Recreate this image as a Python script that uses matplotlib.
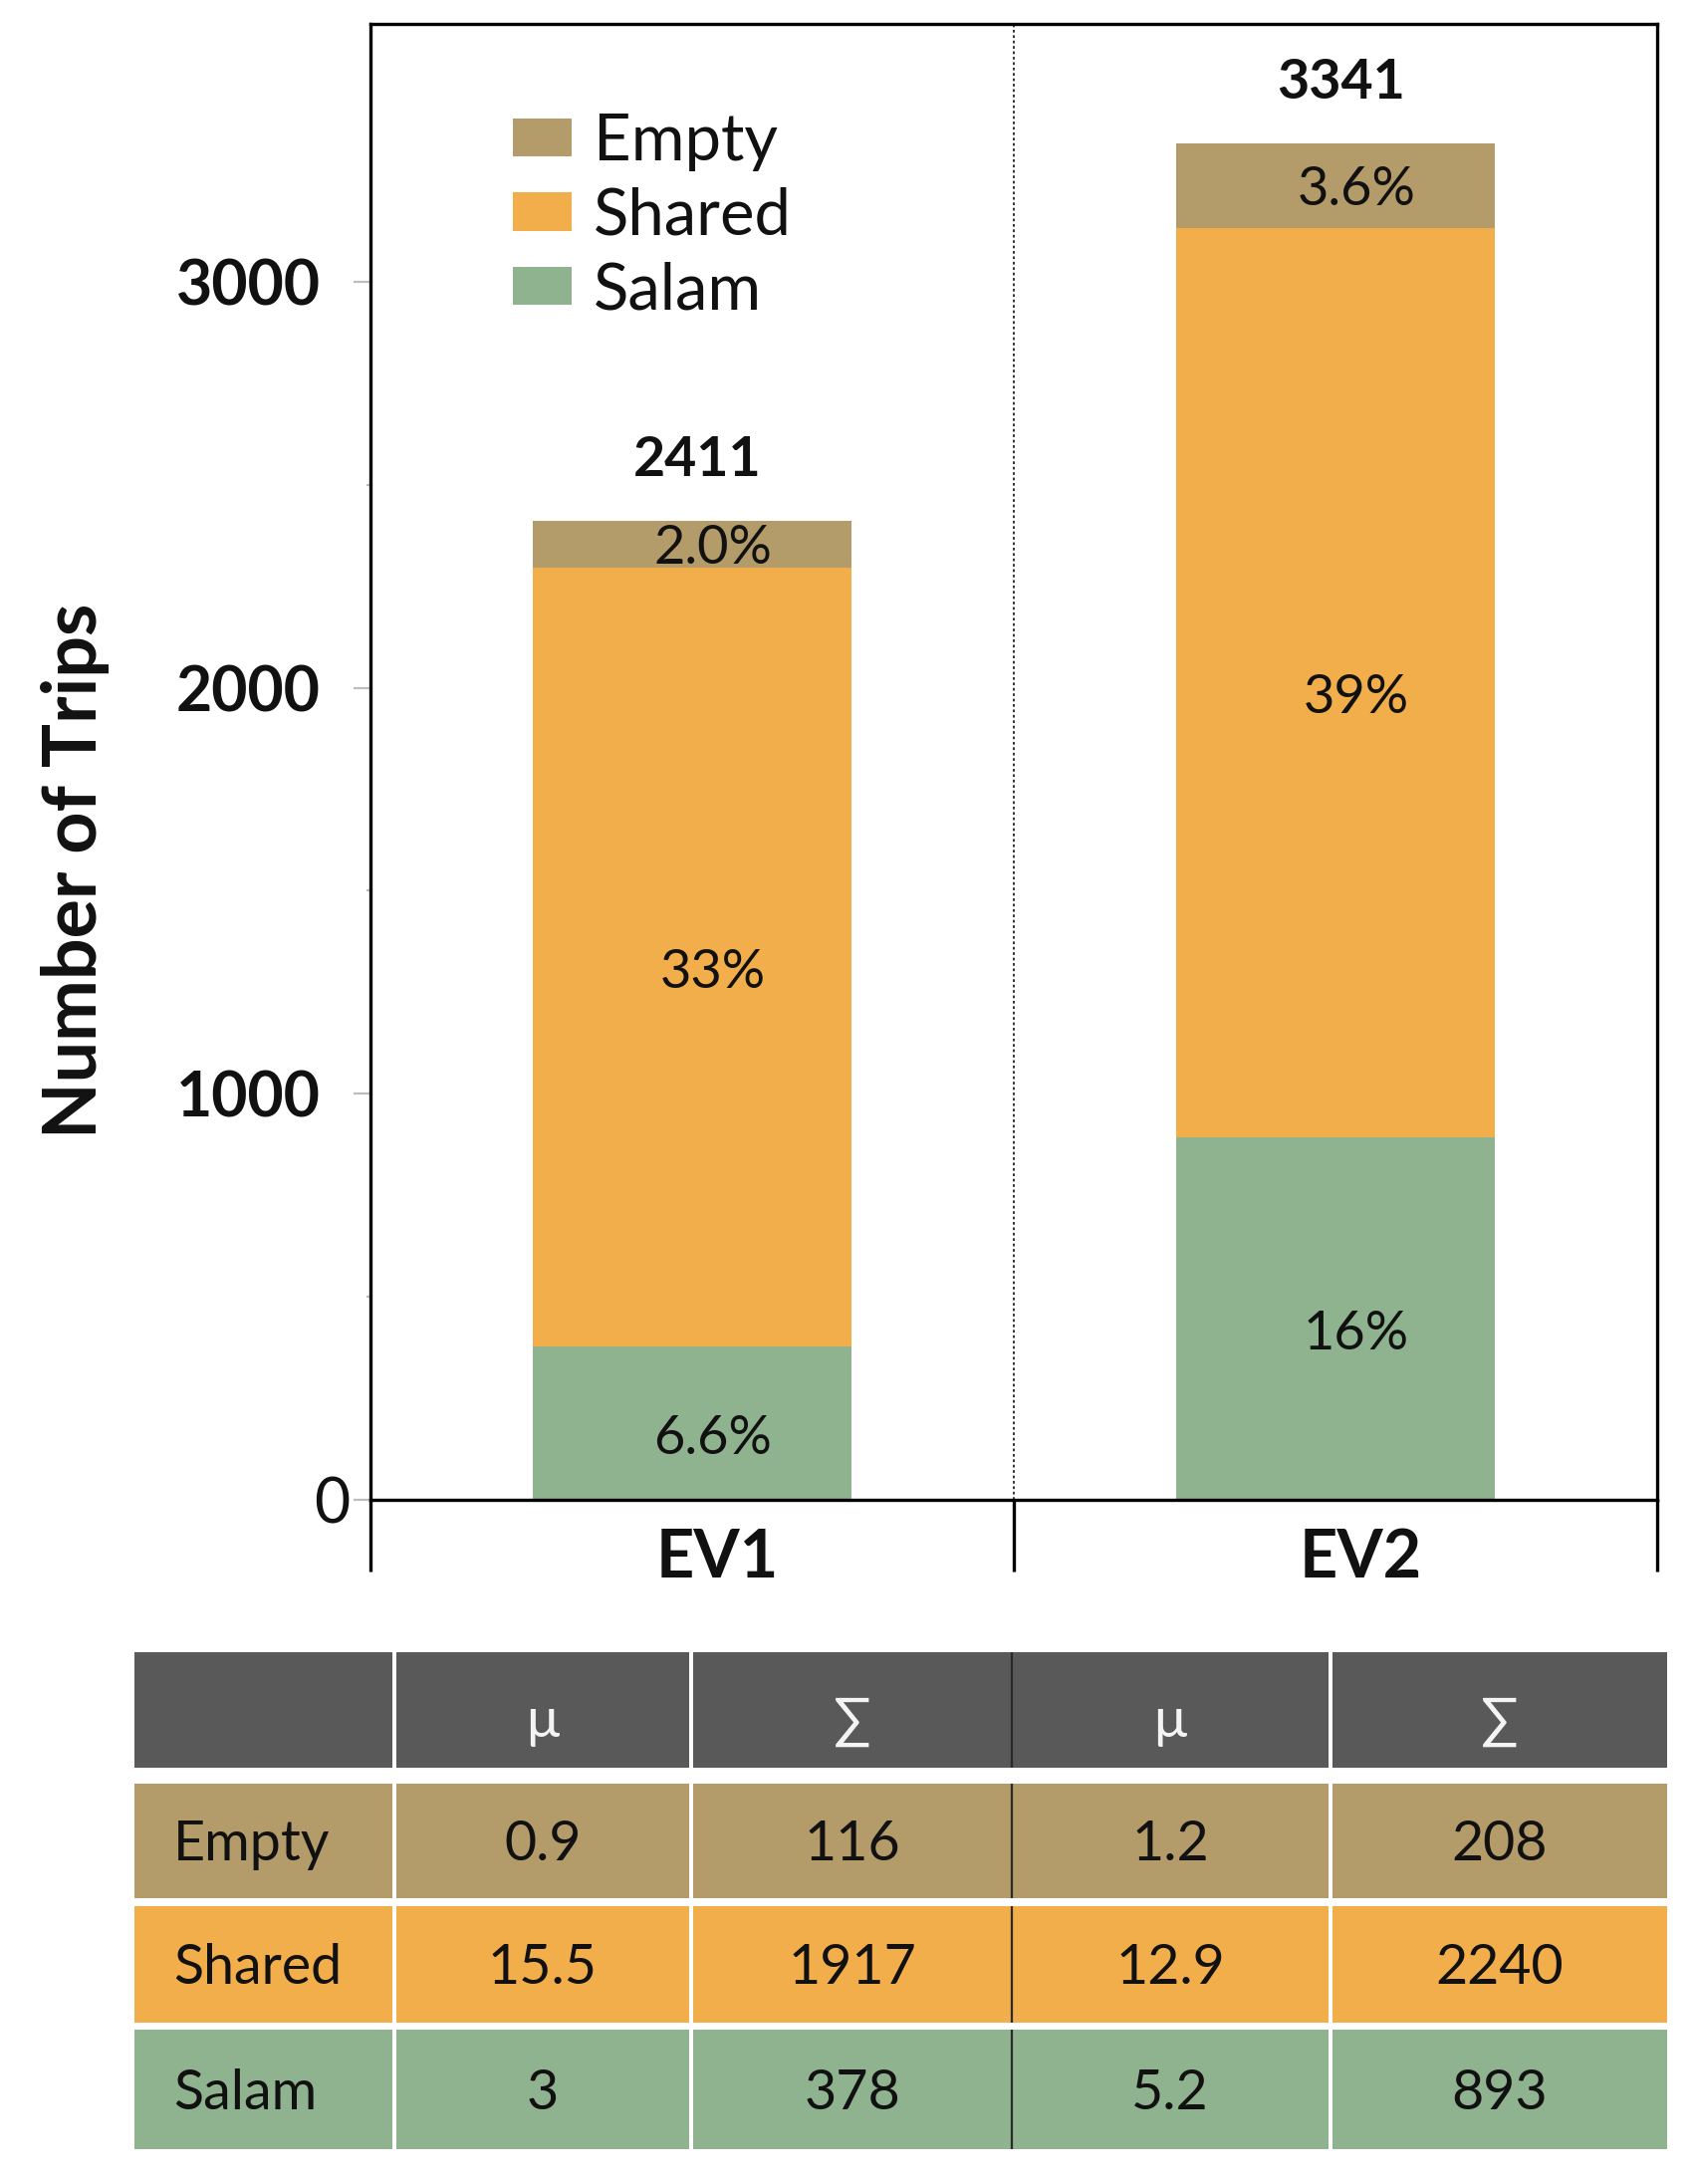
import matplotlib
matplotlib.use("Agg")
import matplotlib.pyplot as plt
from matplotlib.patches import Rectangle
from matplotlib.ticker import FixedLocator, NullFormatter
from matplotlib.transforms import ScaledTranslation

plt.rcParams['font.family'] = ['Lato', 'DejaVu Sans']

# ---------------- data ----------------
categories = ['EV1', 'EV2']
segment_names = ['Salam', 'Shared', 'Empty']
salam = [378, 893]
shared = [1917, 2240]
empty = [116, 208]
totals = [2411, 3341]
pct_salam = ['6.6%', '16%']
pct_shared = ['33%', '39%']
pct_empty = ['2.0%', '3.6%']
y_ticks = [0, 1000, 2000, 3000]
y_minor = [500, 1500, 2500]

table_header = ['', 'μ', '∑', 'μ', '∑']
table_rows = ['Empty', 'Shared', 'Salam']
mean_ev1 = ['0.9', '15.5', '3']
sum_ev1 = ['116', '1917', '378']
mean_ev2 = ['1.2', '12.9', '5.2']
sum_ev2 = ['208', '2240', '893']

# ---------------- style ----------------
C_EMPTY = '#B49B6A'
C_SHARED = '#F2AE4A'
C_SALAM = '#8FB38E'
C_HEADER = '#595959'
TXT = '#111111'

W, H = 1701, 2193
fig = plt.figure(figsize=(W / 100, H / 100), dpi=100)

# ---------------- table (pixel-coordinate overlay) ----------------
tax = fig.add_axes([0, 0, 1, 1])
tax.set_xlim(0, W)
tax.set_ylim(H, 0)
tax.axis('off')

col_edges = [(135, 394), (398, 692), (696, 1015), (1016, 1334), (1338, 1674)]
row_edges = [(1659, 1775), (1791, 1906), (1914, 2031), (2038, 2158)]
row_colors = [C_EMPTY, C_SHARED, C_SALAM]
body = [table_rows, mean_ev1, sum_ev1, mean_ev2, sum_ev2]
FS_T = 40

# header
y0, y1 = row_edges[0]
for j, (x0, x1) in enumerate(col_edges):
    tax.add_patch(Rectangle((x0, y0), x1 - x0, y1 - y0, color=C_HEADER, lw=0))
    tax.text((x0 + x1) / 2, (y0 + y1) / 2 + 12, table_header[j], ha='center', va='center',
             fontsize=FS_T, color='#f4f4f4')
for i in range(3):
    y0, y1 = row_edges[i + 1]
    for j, (x0, x1) in enumerate(col_edges):
        tax.add_patch(Rectangle((x0, y0), x1 - x0, y1 - y0, color=row_colors[i], lw=0))
        if j == 0:
            tax.text(174, (y0 + y1) / 2 + 4, body[j][i], ha='left', va='center',
                     fontsize=FS_T, color=TXT)
        else:
            tax.text((x0 + x1) / 2, (y0 + y1) / 2 + 4, body[j][i], ha='center', va='center',
                     fontsize=FS_T, color=TXT)
for (y0, y1) in row_edges:
    tax.plot([1015.5, 1015.5], [y0, y1], color='#2a2a2a', lw=1.6, solid_capstyle='butt')

# ---------------- bar chart ----------------
L, R, T, B = 372, 1664, 24, 1506
ax = fig.add_axes([L / W, 1 - B / H, (R - L) / W, (B - T) / H])
ax.patch.set_alpha(0)

x = list(range(len(categories)))
bw = 0.495
b_salam = ax.bar(x, salam, bw, color=C_SALAM, label='Salam', zorder=2)
b_shared = ax.bar(x, shared, bw, bottom=salam, color=C_SHARED, label='Shared', zorder=2)
bot2 = [a + b for a, b in zip(salam, shared)]
b_empty = ax.bar(x, empty, bw, bottom=bot2, color=C_EMPTY, label='Empty', zorder=2)

ax.set_xlim(-0.5, 1.5)
ax.set_ylim(0, 3635)

FS_P = 39
for i in x:
    segs = [(0, salam[i], pct_salam[i], -11),
            (salam[i], shared[i], pct_shared[i], -11),
            (bot2[i], empty[i], pct_empty[i], -3)]
    for base, h, lab, dy in segs:
        ax.annotate(lab, (i, base + h / 2), xytext=(15, dy), textcoords='offset points',
                    ha='center', va='center', fontsize=FS_P, color=TXT, zorder=3)
    ax.annotate(str(totals[i]), (i, totals[i]), xytext=(4, 44), textcoords='offset points',
                ha='center', va='center', fontsize=40, fontweight='bold', color=TXT)

ax.axvline(0.5, color='#222222', lw=1.3, ls=(0, (1.5, 1.5)), zorder=1)

for s in ax.spines.values():
    s.set_linewidth(2.4)
    s.set_color('black')

# x ticks: boundaries as long black ticks, category names as minor labels
ax.xaxis.set_major_locator(FixedLocator([-0.5, 0.5, 1.5]))
ax.xaxis.set_major_formatter(NullFormatter())
ax.xaxis.set_minor_locator(FixedLocator(x))
ax.set_xticklabels(categories, minor=True)
ax.tick_params(axis='x', which='major', direction='out', length=52, width=2.4, color='black')
ax.tick_params(axis='x', which='minor', length=0, pad=20, labelsize=48)
shift = ScaledTranslation(18 / 72, 0, fig.dpi_scale_trans)
for t in ax.get_xticklabels(minor=True):
    t.set_fontweight('bold')
    t.set_color(TXT)
    t.set_transform(t.get_transform() + shift)

# y ticks
ax.set_yticks(y_ticks)
ax.set_yticklabels([str(v) for v in y_ticks])
ax.yaxis.set_minor_locator(FixedLocator(y_minor))
ax.tick_params(axis='y', which='major', direction='out', length=12, width=1.6,
               color='#bdbdbd', labelsize=45, pad=24)
ax.tick_params(axis='y', which='minor', direction='out', length=3, width=1.6, color='#bdbdbd')
for k, t in enumerate(ax.get_yticklabels()):
    t.set_color(TXT)
    t.set_fontweight('normal' if y_ticks[k] == 0 else 'bold')
ax.yaxis.get_major_ticks()[0].set_pad(3)

ax.set_ylabel('Number of Trips', fontsize=53, fontweight='bold', color=TXT)
ax.yaxis.set_label_coords(-0.203, 0.426)

leg = ax.legend(handles=[b_empty, b_shared, b_salam], labels=['Empty', 'Shared', 'Salam'],
                loc='upper left', bbox_to_anchor=(0.111, 0.940), frameon=False,
                fontsize=47, handlelength=0.9, handleheight=0.53, handletextpad=0.34,
                labelspacing=0.24, borderpad=0, borderaxespad=0)
for t in leg.get_texts():
    t.set_color(TXT)

fig.savefig('out.png', dpi=100)
